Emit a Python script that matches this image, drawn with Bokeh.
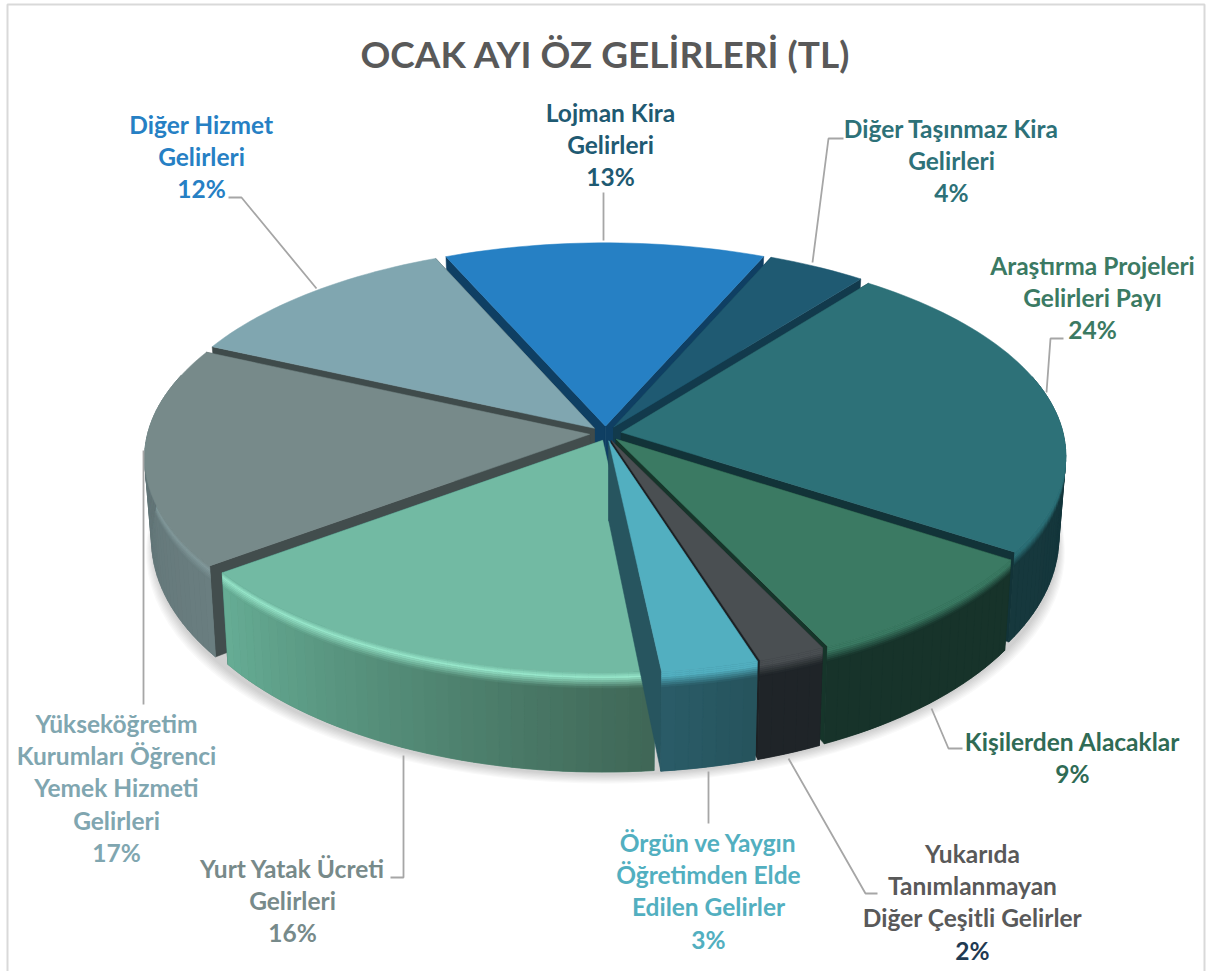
import math
import numpy as np
from bokeh.plotting import figure
from bokeh.models import Range1d
from bokeh.core.properties import value
from bokeh.embed import file_html
from bokeh.resources import INLINE

TITLE = "OCAK AYI ÖZ GELİRLERİ (TL)"
# clockwise, beginning with the slice at the top
slice_names = ["Lojman Kira Gelirleri", "Diğer Taşınmaz Kira Gelirleri", "Araştırma Projeleri Gelirleri Payı",
               "Kişilerden Alacaklar", "Yukarıda Tanımlanmayan Diğer Çeşitli Gelirler",
               "Örgün ve Yaygın Öğretimden Elde Edilen Gelirler", "Yurt Yatak Ücreti Gelirleri",
               "Yükseköğretim Kurumları Öğrenci Yemek Hizmeti Gelirleri", "Diğer Hizmet Gelirleri"]
shares = [13.0, 4.0, 23.8, 8.7, 2.2, 3.15, 16.45, 17.1, 11.6]
pct_labels = ["13%", "4%", "24%", "9%", "2%", "3%", "16%", "17%", "12%"]

top_colors = ["#2680c4", "#1f5a72", "#2d7178", "#3b7a63", "#4a4f52", "#52afc0", "#72baa3", "#778a8a", "#80a6b0"]
wall_colors = ["#0f3f63", "#123a4c", "#123338", "#16352a", "#1c2023", "#27555f", "#27555a", "#424d4d", "#3f4b4b"]
rim_left = ["#0f3f63", "#123a4c", "#123338", "#17332a", "#1f2428", "#2a5c68", "#66ad95", "#5c6e70", "#5c6e70"]
rim_right = ["#0f3f63", "#123a4c", "#16383d", "#17332a", "#1f2428", "#26535c", "#3f6656", "#6a7e80", "#5c6e70"]
glow_colors = ["#2680c4", "#1f5a72", "#2d7178", "#3b7a63", "#4a4f52", "#52afc0", "#97e6ca", "#82999b", "#80a6b0"]

W, H, X0, Y0 = 1208, 971, 0, 0
CX, CY, RX, RY, K, GAP = 605, 433, 442, 205, 0.11, 0.036
START = -23.5
YURT_NUDGE = 0.008


def project(u, v):
    s = 1 / (1 + K * v)
    return CX + RX * u * s, CY - RY * v * s


def depth(v):
    return 79 - 20 * v


def lower(x, y, v):
    return CX + (x - CX) * 0.985, y + depth(v)


def mix(a, b, t):
    ca = [int(a[i:i + 2], 16) for i in (1, 3, 5)]
    cb = [int(b[i:i + 2], 16) for i in (1, 3, 5)]
    return "#%02x%02x%02x" % tuple(round(p + (q - p) * t) for p, q in zip(ca, cb))


p = figure(width=W, height=H, x_range=Range1d(X0, X0 + W), y_range=Range1d(Y0 + H, Y0),
           output_backend="svg", toolbar_location=None, min_border=0,
           background_fill_color="white", border_fill_color="white", outline_line_color=None)
p.xaxis.visible = False
p.yaxis.visible = False
p.grid.visible = False

# frame
p.line([7, 7, 1204, 1204], [971, 4, 4, 971], line_color="#d9d9d9", line_width=2)

# soft ground shadow
thetas = np.radians(np.arange(0, 360, 3))
for i in range(8):
    xs, ys = [], []
    grow = 20 - 2.4 * i
    for t in thetas:
        u, v = math.sin(t), math.cos(t)
        x, y = project(u * 1.03, v * 1.03)
        x, y = lower(x, y, v)
        xs.append(CX + (x - CX) * (1 + 0.4 * grow / RX))
        ys.append(y + 3 + grow * (0.5 if v < 0 else 0.1))
    p.patch(xs, ys, fill_color="black", fill_alpha=0.022, line_color=None)

# slices, far ones first
edges = [START]
for s in shares:
    edges.append(edges[-1] + s * 3.6)

order = sorted(range(len(shares)), key=lambda i: -math.cos(math.radians((edges[i] + edges[i + 1]) / 2)))
px, py, fills = [], [], []


def add(xs, ys, c):
    px.append(list(xs))
    py.append(list(ys))
    fills.append(c)


BANDS = [0, 0.02, 0.04, 0.06, 0.08, 0.10, 0.12, 0.14, 0.16, 1]
F1, F2 = 0.05, 0.16
BACK = 0.3
for i in order:
    a0, a1 = edges[i], edges[i + 1]
    mid = math.radians((a0 + a1) / 2)
    ou, ov = GAP * math.sin(mid), GAP * math.cos(mid)
    if i == 6:
        ou += YURT_NUDGE
    n = max(4, int((a1 - a0) / 1.5))
    angs = np.radians(np.linspace(a0, a1, n + 1))
    rim = []
    for t in angs:
        u, v = math.sin(t) + ou, math.cos(t) + ov
        x, y = project(u, v)
        rim.append((x, y, v))
    ax, ay = project(ou, ov)
    # radial walls
    for (x, y, v) in (rim[0], rim[-1]):
        bx, by = lower(x, y, v)
        cx, cy = lower(ax, ay, ov)
        add([ax, x, bx, cx], [ay, y, by, cy], wall_colors[i])
    # solid base of the rim (front part only), so no wall shows through the seams
    low = [lower(*r) for r in rim]
    front = [k for k in range(n + 1) if rim[k][2] < BACK]
    if len(front) > 1:
        add([rim[k][0] for k in front] + [low[k][0] for k in front[::-1]],
            [rim[k][1] for k in front] + [low[k][1] for k in front[::-1]],
            mix(rim_left[i], rim_right[i], 0.5))
    # outer rim, in small shaded pieces
    for j in range(n):
        x0, y0, v0 = rim[j]
        x1, y1, v1 = rim[j + 1]
        if v0 >= BACK or v1 >= BACK:
            continue
        x0b, y0b = low[j]
        x1b, y1b = low[j + 1]
        tt = (j + 0.5) / n
        # rim colour runs from the slice's screen left to its screen right
        tx = 1 - tt if math.cos(mid) < 0 else tt
        body = mix(rim_left[i], rim_right[i], tx)
        for b in range(len(BANDS) - 1):
            f0, f1 = BANDS[b], BANDS[b + 1]
            fm = (f0 + f1) / 2
            if fm < F1:
                col = mix(top_colors[i], glow_colors[i], fm / F1)
            elif fm < F2:
                col = mix(glow_colors[i], body, (fm - F1) / (F2 - F1))
            else:
                col = body
            add([x0 + (x0b - x0) * f0, x1 + (x1b - x1) * f0, x1 + (x1b - x1) * f1, x0 + (x0b - x0) * f1],
                [y0 + (y0b - y0) * f0, y1 + (y1b - y1) * f0, y1 + (y1b - y1) * f1, y0 + (y0b - y0) * f1], col)
    # top face
    add([ax] + [r[0] for r in rim], [ay] + [r[1] for r in rim], top_colors[i])

p.patches(px, py, fill_color=fills, line_color=fills, line_width=0.5)

# leader lines
leaders = [
    ([603, 603], [192, 240]),
    ([843, 828, 812], [138, 138, 262]),
    ([1063, 1050, 1046], [338, 338, 392]),
    ([962, 948, 931], [748, 748, 708]),
    ([788, 865, 877], [758, 893, 893]),
    ([708, 708], [771, 823]),
    ([403, 403, 390], [755, 877, 877]),
    ([143, 143], [450, 704]),
    ([228, 241, 316], [197, 197, 288]),
]
for lx, ly in leaders:
    p.line(lx, ly, line_color="#a6a6a6", line_width=1.8)

# texts
FONT = value("Lato")
p.text([605], [53], text=[TITLE], text_font=FONT, text_font_style="bold", text_font_size="37px",
       text_color="#595959", text_align="center", text_baseline="middle")

blocks = [
    (610, 112, ["Lojman Kira", "Gelirleri", pct_labels[0]], "#1f5a72", None),
    (951, 128, ["Diğer Taşınmaz Kira", "Gelirleri", pct_labels[1]], "#2d7178", None),
    (1092, 265, ["Araştırma Projeleri", "Gelirleri Payı", pct_labels[2]], "#3b7a63", None),
    (1072, 741, ["Kişilerden Alacaklar", pct_labels[3]], "#2f6b55", None),
    (972, 853, ["Yukarıda", "Tanımlanmayan", "Diğer Çeşitli Gelirler", pct_labels[4]], "#595959", "#1f3a52"),
    (708, 842, ["Örgün ve Yaygın", "Öğretimden Elde", "Edilen Gelirler", pct_labels[5]], "#52afc0", None),
    (292, 868, ["Yurt Yatak Ücreti", "Gelirleri", pct_labels[6]], "#778a8a", None),
    (116, 723, ["Yükseköğretim", "Kurumları Öğrenci", "Yemek Hizmeti", "Gelirleri", pct_labels[7]], "#80a6b0", None),
    (201, 124, ["Diğer Hizmet", "Gelirleri", pct_labels[8]], "#2680c4", None),
]
for cx, y0, lines, col, last_col in blocks:
    for k, line in enumerate(lines):
        c = last_col if (last_col and k == len(lines) - 1) else col
        p.text([cx], [y0 + k * 32.2], text=[line], text_font=FONT, text_font_style="bold", text_font_size="24.5px",
               text_color=c, text_align="center", text_baseline="middle")

open("out.html", "w").write(file_html(p, INLINE))
